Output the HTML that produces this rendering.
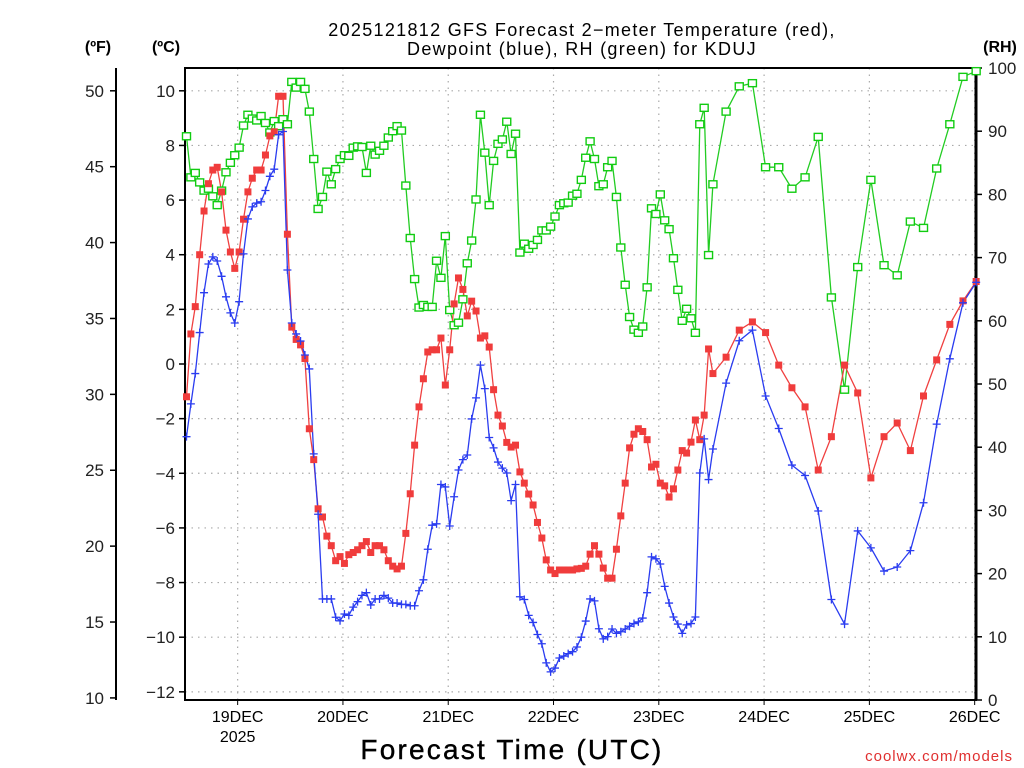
<!DOCTYPE html>
<html><head><meta charset="utf-8"><style>
html,body{margin:0;padding:0;background:#fff;}
svg{display:block;font-family:"Liberation Sans",sans-serif;}
</style></head><body>
<svg id="chart" width="1024" height="768" viewBox="0 0 1024 768" xmlns="http://www.w3.org/2000/svg">
<text x="582" y="36" font-size="18" text-anchor="middle" fill="#000" letter-spacing="1.3">2025121812 GFS Forecast 2−meter Temperature (red),</text>
<text x="582" y="55" font-size="18" text-anchor="middle" fill="#000" letter-spacing="1.3">Dewpoint (blue), RH (green) for KDUJ</text>
<text x="98" y="52" font-size="16" font-weight="bold" text-anchor="middle">(ºF)</text>
<text x="166" y="52" font-size="16" font-weight="bold" text-anchor="middle">(ºC)</text>
<text x="1000" y="52" font-size="16" font-weight="bold" text-anchor="middle">(RH)</text>
<text x="512" y="759" font-size="28" text-anchor="middle" letter-spacing="2.2" stroke="#000" stroke-width="0.4">Forecast Time (UTC)</text>
<text x="1013" y="761" font-size="15" text-anchor="end" fill="#e03030" letter-spacing="1">coolwx.com/models</text>
<g id="grid"></g>
<g id="axes"></g>
<g id="series"></g>
</svg>
<script>
// ---- data (hours from first forecast point) ----
const hoursHourly = Array.from({length:121},(_, i)=>i);
const hours3h = [123,126,129,132,135,138,141,144,147,150,153,156,159,162,165,168,171,174,177,180];
const tempC = [-1.2,1.1,2.1,4.0,5.6,6.6,7.1,7.2,6.3,4.9,4.1,3.5,4.1,5.3,6.3,6.8,7.1,7.1,7.65,8.35,8.5,9.8,9.8,4.75,1.35,0.9,0.7,0.2,-2.37,-3.5,-5.3,-5.6,-6.3,-6.65,-7.2,-7.05,-7.3,-6.98,-6.9,-6.8,-6.65,-6.5,-6.9,-6.65,-6.65,-6.8,-7.2,-7.4,-7.5,-7.4,-6.2,-4.75,-2.97,-1.57,-0.54,0.44,0.52,0.52,0.95,-0.77,0.52,2.2,3.15,2.73,1.76,2.3,1.94,0.95,1.03,0.62,-0.94,-1.87,-2.27,-2.87,-3.04,-2.97,-3.95,-4.36,-4.76,-5.16,-5.8,-6.37,-7.17,-7.54,-7.67,-7.54,-7.54,-7.54,-7.54,-7.5,-7.48,-7.4,-6.96,-6.65,-6.96,-7.47,-7.84,-7.84,-6.78,-5.56,-4.36,-3.07,-2.57,-2.37,-2.47,-2.77,-3.77,-3.67,-4.36,-4.46,-4.87,-4.57,-3.88,-3.17,-3.26,-2.86,-2.05,-2.77,-1.87,0.55,-0.35,
0.25,1.24,1.54,1.15,-0.04,-0.87,-1.57,-3.88,-2.66,-0.04,-1.06,-4.17,-2.66,-2.16,-3.17,-1.17,0.15,1.45,2.31,3.02];
const dewC = [-2.66,-1.46,-0.35,1.15,2.61,3.66,3.92,3.77,3.21,2.46,1.87,1.5,2.28,4.03,5.31,5.75,5.89,5.94,6.35,6.87,7.13,8.39,8.51,3.44,1.5,1.1,0.84,0.33,-0.18,-3.29,-5.5,-8.6,-8.6,-8.6,-9.27,-9.4,-9.15,-9.2,-8.9,-8.7,-8.47,-8.37,-8.82,-8.6,-8.6,-8.47,-8.57,-8.75,-8.75,-8.8,-8.8,-8.85,-8.85,-8.3,-7.9,-6.78,-5.9,-5.85,-4.41,-4.5,-5.93,-4.86,-3.88,-3.5,-3.33,-2.01,-1.24,-0.04,-0.9,-2.69,-3.07,-3.59,-3.81,-3.99,-5.0,-4.41,-8.52,-8.62,-9.2,-9.46,-9.9,-10.24,-10.94,-11.27,-11.13,-10.76,-10.69,-10.6,-10.53,-10.36,-10.0,-9.41,-8.6,-8.67,-9.69,-10.06,-9.98,-9.7,-9.86,-9.8,-9.7,-9.6,-9.5,-9.44,-9.3,-8.37,-7.06,-7.13,-7.32,-8.14,-8.75,-9.26,-9.52,-9.86,-9.55,-9.5,-9.26,-3.99,-2.74,-4.23,-3.11,
-0.7,0.85,1.24,-1.17,-2.36,-3.7,-4.08,-5.38,-8.62,-9.52,-6.11,-6.73,-7.58,-7.43,-6.83,-5.08,-2.2,0.19,2.24,2.99];
const rhPct = [89.2,82.7,83.4,81.9,80.6,80.9,79.7,78.3,80.6,83.5,85.0,86.2,87.4,90.9,92.6,92.0,91.7,92.4,91.3,89.8,91.6,90.8,91.9,91.1,97.8,96.9,97.8,96.7,93.1,85.6,77.7,79.6,83.6,81.6,84.0,85.6,86.2,86.1,87.4,87.6,87.5,83.4,87.7,86.3,86.9,87.7,89.0,90.0,90.8,90.1,81.4,73.1,66.6,62.1,62.5,62.2,62.2,69.5,66.8,73.4,61.7,59.3,59.7,63.4,69.1,72.7,79.2,92.6,86.6,78.3,85.3,88.0,88.7,91.5,86.4,89.6,70.8,72.2,71.4,72.0,72.8,74.3,74.3,74.9,76.5,78.3,78.6,78.7,79.8,80.1,82.3,85.8,88.4,85.6,81.3,81.6,84.3,85.3,79.6,71.6,65.7,60.6,58.6,58.1,59.1,65.3,77.8,76.9,80.0,75.9,74.5,69.9,64.9,60.0,61.9,60.4,58.1,91.1,93.7,70.4,81.6,
93.1,97.1,97.6,84.3,84.3,80.9,82.7,89.1,63.7,49.1,68.5,82.3,68.8,67.2,75.7,74.7,84.1,91.1,98.6,99.5];
const dayLabels = ["19DEC","20DEC","21DEC","22DEC","23DEC","24DEC","25DEC","26DEC"];
const celsiusTicks = [10,8,6,4,2,0,-2,-4,-6,-8,-10,-12];
const fahrenheitTicks = [50,45,40,35,30,25,20,15,10];
const rhTicks = [100,90,80,70,60,50,40,30,20,10,0];

// ---- scales ----
const PL=185, PR=976, PT=68, PB=700;
const xS = h => 186.5 + 4.387*h;
const dayHour = i => 11.66 + 24*i;
const yC = c => 364 - 27.32*c;
const yF = f => yC((f-32)*5/9);
const yR = r => PB - (PB-PT)*r/100;
const allHours = hoursHourly.concat(hours3h);
const NS="http://www.w3.org/2000/svg";
function mk(tag, attrs, parent){const e=document.createElementNS(NS,tag);for(const k in attrs)e.setAttribute(k,attrs[k]);parent.appendChild(e);return e;}
const grid=document.getElementById('grid'), axes=document.getElementById('axes'), ser=document.getElementById('series');

// grid
celsiusTicks.forEach(c=>{const l=mk('line',{x1:PL,x2:PR,y1:yC(c),y2:yC(c),stroke:'#aaa','stroke-width':1.2,'stroke-dasharray':'1.5,5'},grid);

});
dayLabels.forEach((d,i)=>{const x=xS(dayHour(i));const l=mk('line',{x1:x,x2:x,y1:PT,y2:PB,stroke:'#aaa','stroke-width':1.2,'stroke-dasharray':'1.5,5'},grid);


const t=mk('text',{x:x,y:722,'font-size':16,'text-anchor':'middle'},axes);t.textContent=d;


const tk=mk('line',{x1:x,x2:x,y1:PB,y2:PB+5,stroke:'#000','stroke-width':1},axes);

});
const yr=mk('text',{x:xS(dayHour(0)),y:742,'font-size':16,'text-anchor':'middle'},axes);yr.textContent="2025";



// frame
const fr=mk('rect',{x:PL,y:PT,width:PR-PL,height:PB-PT,fill:'none',stroke:'#000','stroke-width':2},axes);


const ra=mk('line',{x1:PR,x2:PR,y1:PT,y2:PB,stroke:'#000','stroke-width':3},axes);


const fa=mk('line',{x1:116,x2:116,y1:PT,y2:PB,stroke:'#000','stroke-width':2},axes);



celsiusTicks.forEach(c=>{const y=yC(c);
const tk=mk('line',{x1:PL-6,x2:PL,y1:y,y2:y,stroke:'#000','stroke-width':1.5},axes);


const t=mk('text',{x:PL-10,y:y+6,'font-size':17,'text-anchor':'end',fill:'#222'},axes);t.textContent=c<0?'−'+(-c):c;

});
fahrenheitTicks.forEach(f=>{const y=yF(f);
const tk=mk('line',{x1:110,x2:116,y1:y,y2:y,stroke:'#000','stroke-width':1.5},axes);


const t=mk('text',{x:104,y:y+6,'font-size':17,'text-anchor':'end',fill:'#222'},axes);t.textContent=f;

});
rhTicks.forEach(r=>{const y=yR(r);
const tk=mk('line',{x1:PR,x2:PR+6,y1:y,y2:y,stroke:'#000','stroke-width':1.5},axes);


const t=mk('text',{x:988,y:y+6,'font-size':17,'text-anchor':'start',fill:'#222'},axes);t.textContent=r;

});

// series
function line(vals, yf, color, name){
  const pts=vals.map((v,i)=>xS(allHours[i]).toFixed(1)+','+yf(v).toFixed(1)).join(' ');
  const p=mk('polyline',{points:pts,fill:'none',stroke:color,'stroke-width':1.3},ser);
  
  
}
line(rhPct,yR,'#22cc22','rh-line');
line(tempC,yC,'#f04040','temperature-line');
line(dewC,yC,'#2a3cf0','dewpoint-line');
const gG=mk('g',{},ser);


rhPct.forEach((v,i)=>{const x=xS(allHours[i]),y=yR(v);
const m=mk('rect',{x:x-4,y:y-3.5,width:8,height:7,fill:'#fff',stroke:'#11cc11','stroke-width':1.4},gG);

});
const gT=mk('g',{},ser);


tempC.forEach((v,i)=>{const x=xS(allHours[i]),y=yC(v);
const m=mk('rect',{x:x-3.5,y:y-3.5,width:7,height:7,fill:'#f03c3c'},gT);

});
const gD=mk('g',{},ser);


dewC.forEach((v,i)=>{const x=xS(allHours[i]),y=yC(v);
const m=mk('path',{d:`M${x-4},${y}H${x+4}M${x},${y-4}V${y+4}`,stroke:'#2a3cf0','stroke-width':1.3,fill:'none'},gD);

});
</script>
</body></html>
